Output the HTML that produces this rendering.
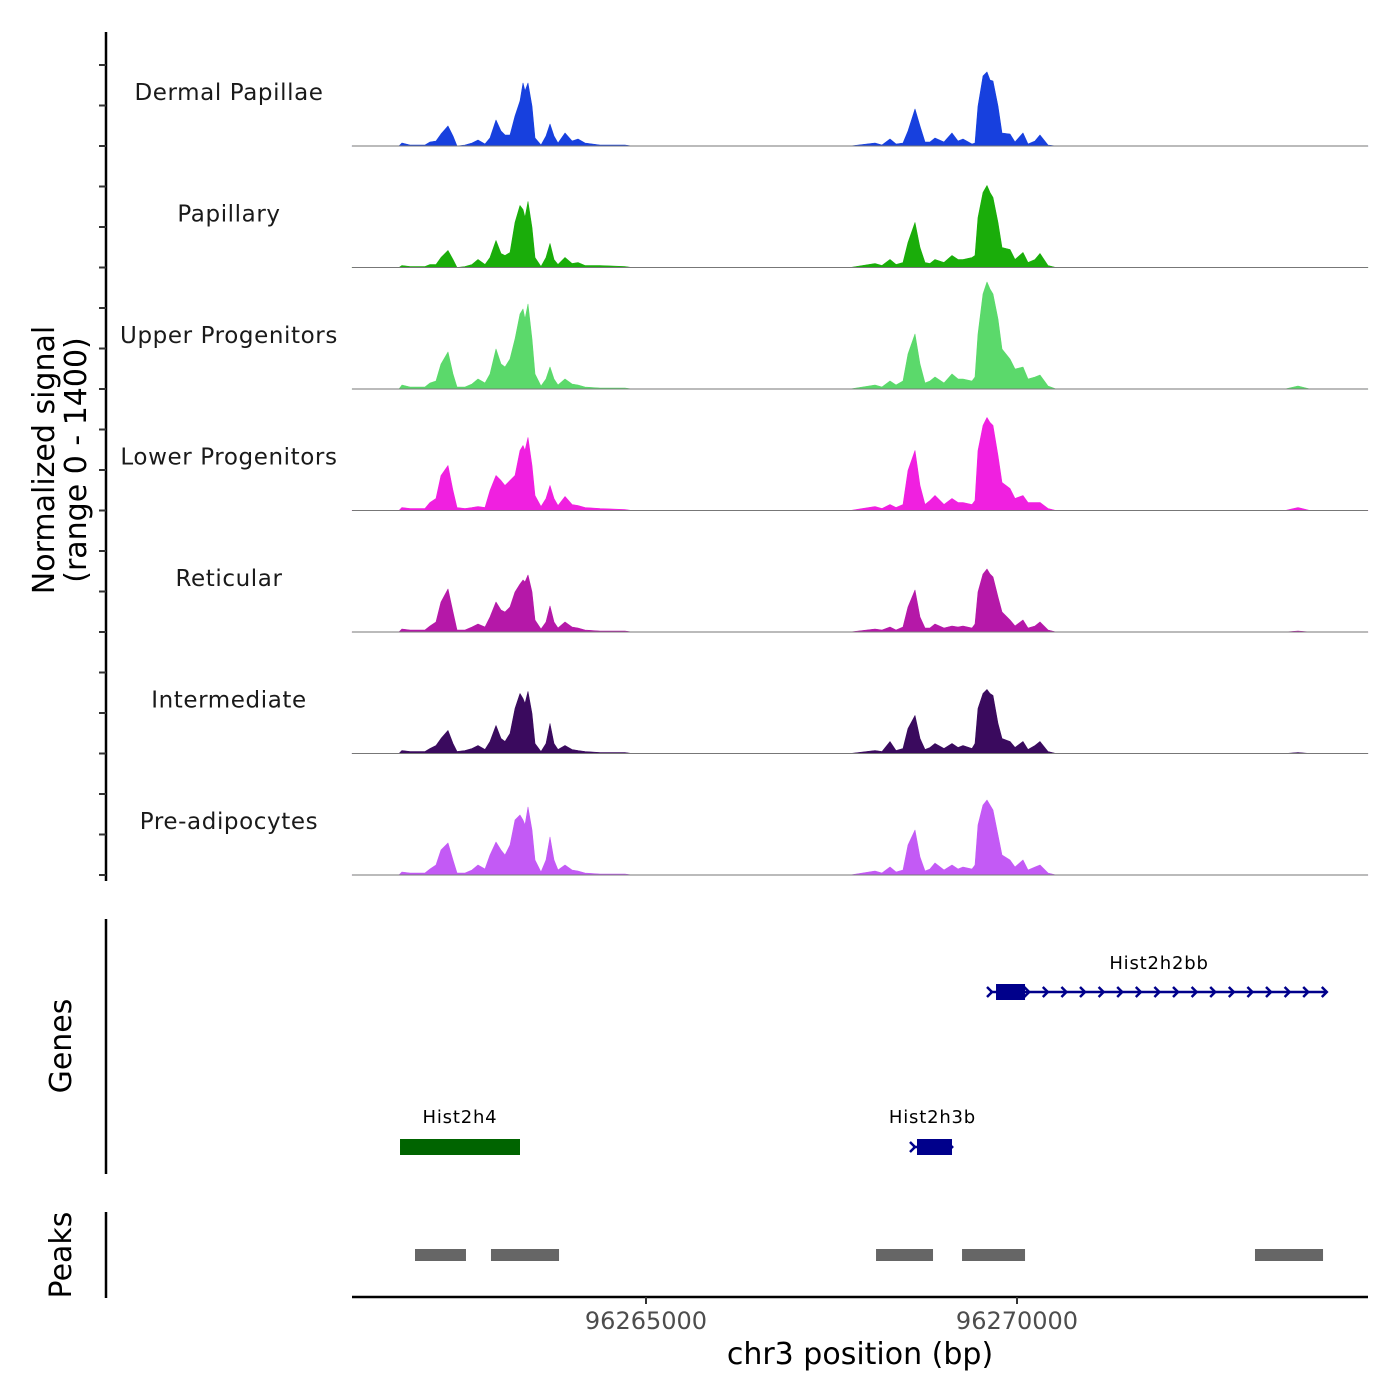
<!DOCTYPE html>
<html><head><meta charset="utf-8"><style>
html,body{margin:0;padding:0;background:#fff;}
svg{display:block;font-family:"DejaVu Sans","Liberation Sans",sans-serif;}
</style></head><body>
<svg id="chart" width="1400" height="1400" viewBox="0 0 1400 1400" xmlns="http://www.w3.org/2000/svg">
<g id="axes"></g>
<g id="tracks"></g>
<g id="genes"></g>
<g id="peaks"></g>
<text transform="translate(54,460) rotate(-90)" text-anchor="middle" font-size="30" fill="#000">Normalized signal</text>
<text transform="translate(86,460) rotate(-90)" text-anchor="middle" font-size="30" fill="#000">(range 0 - 1400)</text>
<text transform="translate(71,1046) rotate(-90)" text-anchor="middle" font-size="30" fill="#000">Genes</text>
<text transform="translate(71,1255) rotate(-90)" text-anchor="middle" font-size="30" fill="#000">Peaks</text>
<text x="860" y="1364" text-anchor="middle" font-size="30" fill="#000">chr3 position (bp)</text>
</svg>
<script>
const xDomain = [96261038, 96274730];
const yMax = 1215;
const xTicks = [96265000, 96270000];
const trackNames = ["Dermal Papillae","Papillary","Upper Progenitors","Lower Progenitors","Reticular","Intermediate","Pre-adipocytes"];
const trackColors = ["#1740de","#1aad0a","#5bd96b","#f020e0","#b518a8","#3a0a5e","#c35af5"];
const positions = [96261671,96261712,96261819,96262022,96262089,96262170,96262237,96262332,96262399,96262453,96262561,96262655,96262736,96262830,96262898,96262978,96263046,96263100,96263167,96263235,96263302,96263342,96263369,96263410,96263464,96263504,96263585,96263652,96263706,96263760,96263814,96263908,96264003,96264084,96264178,96264380,96264717,96264811,
96267749,96268086,96268181,96268288,96268369,96268464,96268531,96268625,96268693,96268760,96268827,96268895,96269016,96269124,96269205,96269272,96269394,96269434,96269474,96269542,96269596,96269636,96269677,96269744,96269798,96269906,96269973,96270081,96270148,96270243,96270310,96270418,96270526,
96273612,96273787,96273949];
const dermalPapillae = [0,30,10,10,40,50,120,200,100,0,10,30,60,20,80,260,150,110,110,300,450,630,550,630,400,80,10,100,220,100,30,130,50,70,30,10,10,0,
0,30,10,70,20,30,150,370,200,40,40,80,40,130,50,70,20,30,400,700,740,660,650,400,130,120,40,130,20,50,110,10,0, 0,0,0];
const papillary = [0,20,10,10,30,30,100,170,80,0,10,30,80,30,100,270,140,120,150,450,620,580,500,660,400,100,10,100,240,80,30,100,40,50,20,20,10,0,
0,40,20,80,30,50,250,450,200,50,40,80,50,120,80,80,100,120,500,750,820,750,700,450,200,180,80,150,50,80,140,20,0, 0,0,0];
const upperProgenitors = [0,40,20,20,60,80,250,370,150,20,20,50,100,60,150,400,250,220,300,500,750,800,700,850,500,150,30,100,220,100,40,100,50,40,20,10,10,0,
0,40,20,80,40,80,350,550,250,60,80,120,60,150,100,100,80,120,550,950,1070,1000,950,700,400,300,200,220,100,120,140,30,0, 0,30,0];
const lowerProgenitors = [0,30,20,20,80,120,350,450,200,30,20,30,40,30,200,350,300,250,300,350,600,650,600,730,450,150,40,120,250,120,50,140,60,50,30,20,10,0,
0,40,20,60,30,60,400,600,250,60,100,150,60,120,80,80,60,100,600,850,930,880,850,550,280,220,120,150,80,80,80,20,0, 0,30,0];
const reticular = [0,30,20,20,60,100,300,430,200,20,20,50,80,50,150,300,220,200,250,400,480,520,500,570,400,120,30,100,260,100,40,100,50,40,20,10,10,0,
0,30,20,50,20,50,250,420,150,40,40,80,40,60,50,60,40,80,400,580,630,580,550,350,200,120,60,120,40,60,100,20,0, 0,10,0];
const intermediate = [0,30,20,20,50,80,150,230,100,20,30,50,80,40,120,280,150,120,200,450,600,550,500,620,400,100,20,100,300,100,40,80,40,30,20,10,10,0,
0,30,20,120,30,50,250,380,150,40,60,100,50,100,60,80,50,100,450,600,640,600,580,300,150,120,60,120,40,80,120,20,0, 0,10,0];
const preAdipocytes = [0,30,20,20,60,100,250,320,150,20,20,50,100,60,200,330,250,200,300,550,600,550,500,680,450,150,30,150,380,150,50,100,50,40,20,10,10,0,
0,40,20,80,30,50,300,450,180,40,60,120,50,100,60,80,60,100,500,700,750,700,650,400,200,150,80,150,50,80,100,20,0, 0,0,0];
const trackValues = [dermalPapillae,papillary,upperProgenitors,lowerProgenitors,reticular,intermediate,preAdipocytes];
const geneNames = ["Hist2h4","Hist2h3b","Hist2h2bb"];
const geneStarts = [96261685,96268598,96269636];
const geneEnds = [96263302,96269124,96274151];
const exonStarts = [96261685,96268652,96269717];
const exonEnds = [96263302,96269124,96270108];
const peakStarts = [96261887,96262911,96268100,96269259,96273207];
const peakEnds = [96262574,96263828,96268868,96270108,96274124];

const NS="http://www.w3.org/2000/svg";
const PL=352, PR=1368, TH=121.5, firstBase=146;
const x = bp => PL + (bp - xDomain[0]) / (xDomain[1]-xDomain[0]) * (PR-PL);
const base = i => firstBase + i*TH;
const y = (i,v) => base(i) - v / yMax * TH;
function mk(tag, attrs, parent){const e=document.createElementNS(NS,tag);for(const k in attrs)e.setAttribute(k,attrs[k]);parent.appendChild(e);return e;}

const axes=document.getElementById('axes');
let l;
l=mk('line',{x1:106,y1:32,x2:106,y2:881,stroke:'#000','stroke-width':2.5},axes);


for(let i=0;i<7;i++){for(let j=0;j<3;j++){const ty=base(i)-j*TH/3;
 const t=mk('line',{x1:99,y1:ty,x2:106,y2:ty,stroke:'#333','stroke-width':2},axes);
 
 }}
l=mk('line',{x1:106,y1:919,x2:106,y2:1174,stroke:'#000','stroke-width':2.5},axes);


l=mk('line',{x1:106,y1:1212,x2:106,y2:1298,stroke:'#000','stroke-width':2.5},axes);


l=mk('line',{x1:PL,y1:1297,x2:PR,y2:1297,stroke:'#000','stroke-width':2.5},axes);


xTicks.forEach(t=>{const tk=mk('line',{x1:x(t),y1:1297,x2:x(t),y2:1304,stroke:'#333','stroke-width':2},axes);
 
 
 const tl=mk('text',{x:x(t),y:1329,'text-anchor':'middle','font-size':24,fill:'#4d4d4d'},axes);tl.textContent=t;
 
 });

const tracks=document.getElementById('tracks');
trackValues.forEach((vals,i)=>{
 const g=mk('g',{},tracks);
 
 
 let d='M'+PL+','+base(i);
 positions.forEach((p,k)=>{d+=' L'+x(p).toFixed(1)+','+y(i,vals[k]).toFixed(1);});
 d+=' L'+PR+','+base(i)+' Z';
 const a=mk('path',{d:d,fill:trackColors[i],stroke:trackColors[i],'stroke-width':0.6,'stroke-linejoin':'round'},g);
 
 
 const bl=mk('line',{x1:PL,y1:base(i),x2:PR,y2:base(i),stroke:'#777','stroke-width':1},g);
 
 
 const lb=mk('text',{x:229,y:base(i)-46,'text-anchor':'middle','font-size':23,fill:'#1a1a1a','letter-spacing':'0.6'},g);
 lb.textContent=trackNames[i];
 
 
});

const genes=document.getElementById('genes');
const geneRowY=[1147,1147,992], geneColor=['#006400','#00008b','#00008b'], labelY=[1123,1123,969];
geneNames.forEach((n,i)=>{
 const g=mk('g',{},genes);
 
 
 const cy=geneRowY[i], c=geneColor[i];
 const ln=mk('line',{x1:x(geneStarts[i]),y1:cy,x2:x(geneEnds[i]),y2:cy,stroke:c,'stroke-width':2.5},g);
 
 
 if(i>0){for(let ax=x(geneStarts[i]);ax<=x(geneEnds[i])+1;ax+=18.6){
   const ch=mk('polyline',{points:(ax-3)+','+(cy-5)+' '+(ax+2)+','+cy+' '+(ax-3)+','+(cy+5),fill:'none',stroke:c,'stroke-width':2.5},g);
   
   }}
 const ex=mk('rect',{x:x(exonStarts[i]),y:cy-8,width:x(exonEnds[i])-x(exonStarts[i]),height:16,fill:c},g);
 
 
 const t=mk('text',{x:(i==2?1159:(x(geneStarts[i])+x(geneEnds[i]))/2),y:labelY[i],'text-anchor':'middle','font-size':18,fill:'#000','letter-spacing':'0.8'},g);
 t.textContent=n;
 
 
});

const peaks=document.getElementById('peaks');
peakStarts.forEach((s,i)=>{
 const r=mk('rect',{x:x(s),y:1249,width:x(peakEnds[i])-x(s),height:12,fill:'#666'},peaks);
 
 
});
</script>
</body></html>
